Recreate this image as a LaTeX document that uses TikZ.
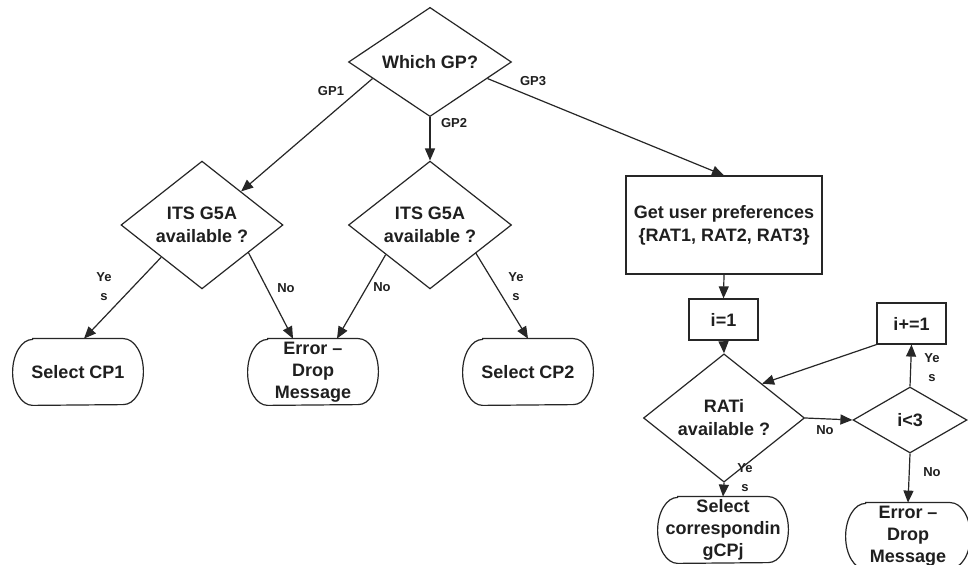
\documentclass[tikz,border=0pt]{standalone}
\usepackage{fontspec}
\setmainfont{Liberation Sans}
\usetikzlibrary{shapes.geometric,arrows.meta,calc}
\newcommand\termline[1]{%
  \draw[line width=0.6pt, draw=black!85] ([xshift=10pt]#1.north west) -- ([xshift=-10pt]#1.north east)
    arc[start angle=90,end angle=-90,x radius=10pt,y radius=16.5pt]
    -- ([xshift=10pt]#1.south west)
    arc[start angle=270,end angle=90,x radius=10pt,y radius=16.5pt] -- cycle;}
\begin{document}
\begin{tikzpicture}[x=0.5pt,y=-0.5pt,
  every node/.style={text=black!88},
  txt/.style={font=\bfseries\fontsize{9}{11.5}\selectfont, align=center},
  dia/.style={txt, draw=black!85, shape=diamond, inner sep=0pt, line width=0.6pt},
  box/.style={txt, draw=black!85, rectangle, inner sep=0pt, line width=0.6pt},
  term/.style={rectangle, inner sep=0pt, minimum width=65pt, minimum height=33pt},
  ttxt/.style={font=\bfseries\fontsize{9}{11}\selectfont, align=center},
  lbl/.style={font=\bfseries\fontsize{6.5}{9.5}\selectfont, align=center, inner sep=0pt},
  arr/.style={draw=black!85, line width=0.6pt, -{Triangle[length=6pt,width=5pt]}}
]
\useasboundingbox (0,0) rectangle (968,565);
\fill[white] (0,0) rectangle (968,565);

% decision nodes
\node[dia, minimum width=81.5pt, minimum height=48.5pt] (wgp) at (430,62) {Which GP?};
\node[dia, minimum width=81pt, minimum height=48.5pt] (its1) at (202,225) {ITS G5A\\available ?};
\node[dia, minimum width=81.5pt, minimum height=48.5pt] (its2) at (430,225) {ITS G5A\\available ?};
\node[dia, minimum width=80.5pt, minimum height=48.5pt] (rat) at (724,418) {RATi\\available ?};
\node[dia, minimum width=57pt, minimum height=33pt] (lt) at (910,420) {i<3};

% process boxes
\node[box, minimum width=98pt, minimum height=49pt] (gup) at (724,225) {Get user preferences\\\{RAT1, RAT2, RAT3\}};
\node[box, minimum width=34.5pt, minimum height=20.5pt] (i1) at (723.5,319.5) {i=1};
\node[box, minimum width=34.5pt, minimum height=20.5pt] (inc) at (911.5,323.5) {i+=1};

% terminators
\node[term, label={[ttxt]center:Select CP1}] (sel1) at (78,372) {};
\node[term, label={[ttxt]center:Error –\\Drop\\Message}] (err1) at (313,372) {};
\node[term, label={[ttxt]center:Select CP2}] (sel2) at (528,372) {};
\node[term, label={[ttxt]center:Select\\correspondin\\gCPj}] (selc) at (723,530) {};
\node[term, minimum width=62pt, label={[ttxt]center:Error –\\Drop\\Message}] (err2) at (908,536) {};
\termline{sel1}
\termline{err1}
\termline{sel2}
\termline{selc}
\termline{err2}

% connectors
\draw[arr] ($(wgp.west)!0.3!(wgp.south)$) -- (its1);
\draw[arr] (wgp.south) -- (its2.north);
\draw[arr] ($(wgp.south)!0.7!(wgp.east)$) -- (gup.north);
\draw[arr] ($(its1.west)!0.5!(its1.south)$) -- ([xshift=3pt]sel1.north);
\draw[arr] ($(its1.south)!0.57!(its1.east)$) -- ([xshift=-10pt]err1.north);
\draw[arr] ($(its2.west)!0.46!(its2.south)$) -- ([xshift=12pt]err1.north);
\draw[arr] ($(its2.south)!0.56!(its2.east)$) -- (sel2.north);
\draw[arr] (gup.south) -- (i1.north);
\draw[arr] (i1.south) -- (rat.north);
\draw[arr] (rat.south) -- (selc.north);
\draw[arr] (rat.east) -- (lt.west);
\draw[arr] (lt.north) -- (inc.south);
\draw[arr] (lt.south) -- (err2.north);
\draw[arr] (inc.south west) -- ($(rat.north)!0.47!(rat.east)$);

% connector labels
\node[lbl] (lgp1) at (331,91) {GP1};
\node[lbl] (lgp2) at (454,123) {GP2};
\node[lbl] (lgp3) at (533,81) {GP3};
\node[lbl] (ly1) at (104,287) {Ye\\s};
\node[lbl] (ln1) at (286,288) {No};
\node[lbl] (ln2) at (382,287) {No};
\node[lbl] (ly2) at (516,287) {Ye\\s};
\node[lbl] (ly3) at (745,478) {Ye\\s};
\node[lbl] (ln3) at (825,430) {No};
\node[lbl] (ly4) at (932,368) {Ye\\s};
\node[lbl] (ln4) at (932,472) {No};
\end{tikzpicture}
\end{document}
